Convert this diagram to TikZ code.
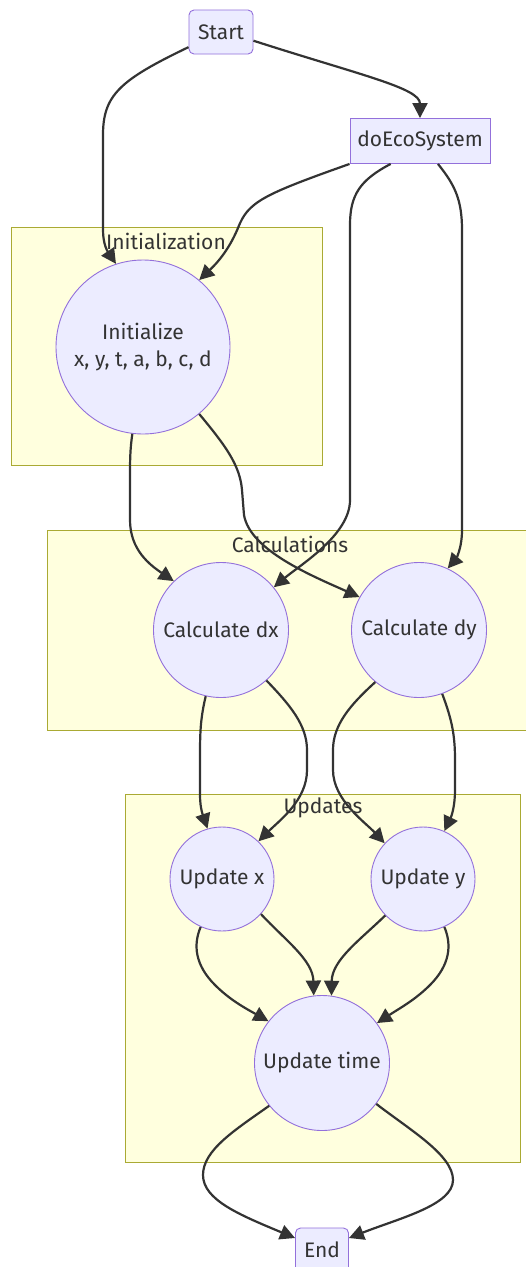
\documentclass[tikz,border=0pt]{standalone}
\usepackage{fontspec}
\setmainfont{Fira Sans}
\usetikzlibrary{arrows.meta}
\definecolor{nodefill}{HTML}{ECECFF}
\definecolor{nodeline}{HTML}{9370DB}
\definecolor{clusterfill}{HTML}{FFFFDE}
\definecolor{clusterline}{HTML}{AAAA33}
\definecolor{edgecol}{HTML}{333333}
\definecolor{txt}{HTML}{333333}
\tikzset{
  every node/.style={text=txt, font=\fontsize{21}{27}\selectfont},
  cnode/.style={circle, draw=nodeline, fill=nodefill, line width=0.9pt, inner sep=0pt, align=center},
  bnode/.style={rectangle, draw=nodeline, fill=nodefill, line width=0.9pt, inner sep=0pt},
  cluster/.style={draw=clusterline, fill=clusterfill, line width=0.9pt},
  edge/.style={draw=edgecol, line width=2.2pt, -{Triangle[length=15pt,width=15pt]}},
}
\begin{document}
\begin{tikzpicture}[x=1pt,y=-1pt]
\useasboundingbox[fill=white] (0,0) rectangle (526,1267);
% clusters
\draw[cluster] (11,227) rectangle (322,465);
\draw[cluster] (47,530) rectangle (540,730);
\draw[cluster] (125,794) rectangle (520,1162);
\node (lblinit) at (166,241) {Initialization};
\node (lblcalc) at (290,544) {Calculations};
\node (lblupd) at (323,808) {Updates};
% nodes
\node[bnode, rounded corners=5pt, minimum width=64pt, minimum height=44pt] (start) at (221,32) {Start};
\node[bnode, minimum width=140pt, minimum height=45pt] (doeco) at (420,141) {doEcoSystem};
\node[cnode, minimum size=174pt] (init) at (143,347) {Initialize\\x, y, t, a, b, c, d};
\node[cnode, minimum size=135pt] (calcdx) at (221,630) {Calculate dx};
\node[cnode, minimum size=135pt] (calcdy) at (419,630) {Calculate dy};
\node[cnode, minimum size=104pt] (updx) at (222,879) {Update x};
\node[cnode, minimum size=104pt] (updy) at (423,879) {Update y};
\node[cnode, minimum size=135pt] (updt) at (322,1063) {Update time};
\node[bnode, rounded corners=5pt, minimum width=53pt, minimum height=44pt] (endn) at (322,1250) {End};
% edges
\draw[edge] (start.205) .. controls (120,80) and (103,95) .. (103,135) -- (103,230) .. controls (103,245) and (108,252) .. (init.108);
\draw[edge] (start.-15) .. controls (360,75) and (420,88) .. (doeco.north);
\draw[edge] (doeco.south west) .. controls (262,195) and (248,202) .. (238,228) .. controls (228,252) and (215,265) .. (init.50);
\draw[edge] (doeco.-142) .. controls (360,180) and (350,195) .. (350,225) -- (350,500) .. controls (350,535) and (300,565) .. (calcdx.39);
\draw[edge] (doeco.-52) .. controls (455,185) and (462,200) .. (462,230) -- (462,530) .. controls (462,550) and (455,560) .. (calcdy.65);
\draw[edge] (init.-97) .. controls (130,450) and (130,460) .. (130,480) -- (130,520) .. controls (130,550) and (150,565) .. (calcdx.134);
\draw[edge] (init.-50) .. controls (225,445) and (240,465) .. (242,490) -- (244,515) .. controls (250,550) and (310,575) .. (calcdy.151);
\draw[edge] (calcdx.-103) .. controls (200,720) and (200,735) .. (200,760) -- (200,795) .. controls (200,810) and (204,818) .. (updx.106);
\draw[edge] (calcdx.-48) .. controls (290,705) and (307,725) .. (307,750) -- (307,770) .. controls (307,800) and (280,820) .. (updx.46);
\draw[edge] (calcdy.-130) .. controls (350,705) and (333,725) .. (333,750) -- (333,770) .. controls (333,800) and (365,822) .. (updy.137);
\draw[edge] (calcdy.-70) .. controls (452,720) and (455,735) .. (455,760) -- (455,790) .. controls (455,805) and (452,815) .. (updy.66);
\draw[edge] (updx.-114) .. controls (193,945) and (195,965) .. (215,985) .. controls (230,1000) and (245,1008) .. (updt.142);
\draw[edge] (updx.-42) .. controls (285,940) and (313,960) .. (updt.97);
\draw[edge] (updy.-136) .. controls (360,940) and (332,960) .. (updt.82);
\draw[edge] (updy.-66) .. controls (452,945) and (450,965) .. (430,985) .. controls (415,1000) and (400,1008) .. (updt.36);
\draw[edge] (updt.-141) .. controls (235,1130) and (203,1150) .. (203,1175) .. controls (203,1200) and (240,1215) .. (endn.156);
\draw[edge] (updt.-37) .. controls (410,1130) and (453,1155) .. (453,1180) .. controls (453,1205) and (400,1218) .. (endn.24);
\end{tikzpicture}
\end{document}
